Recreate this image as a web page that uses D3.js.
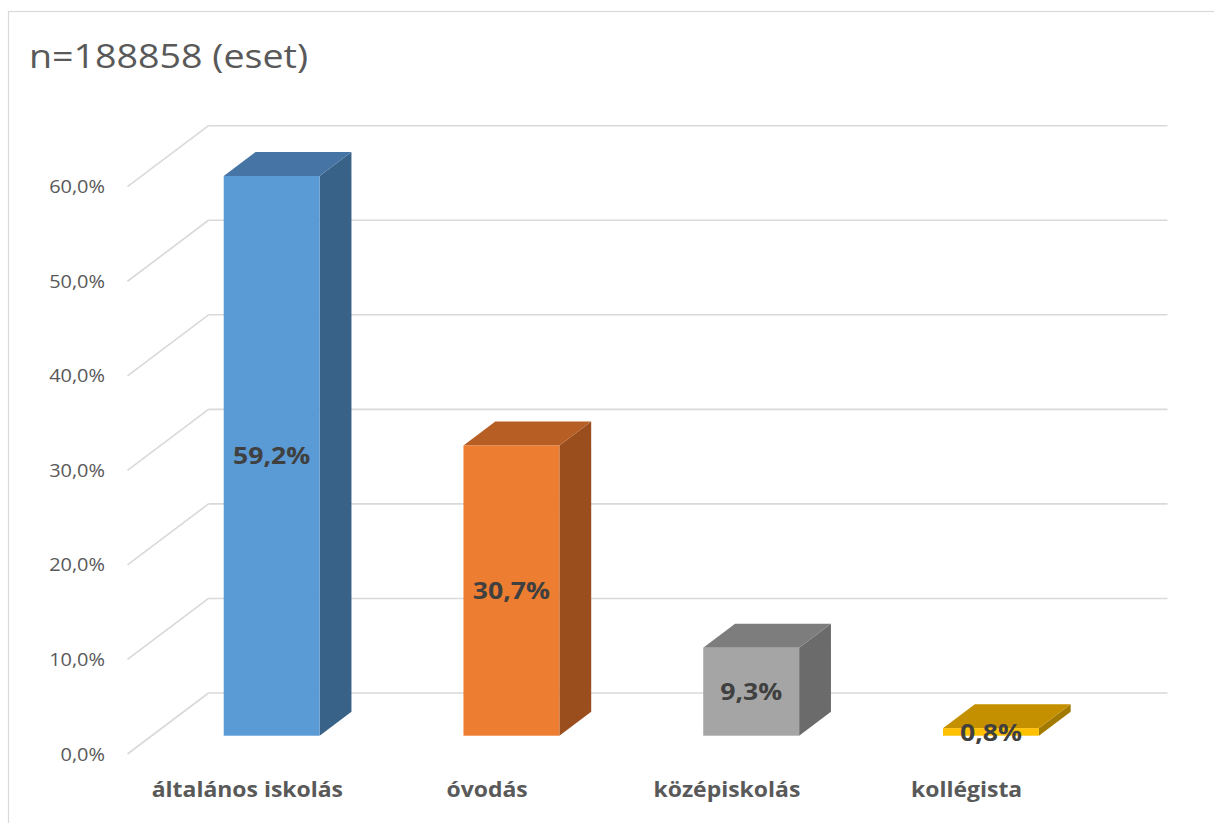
<!DOCTYPE html>
<html>
<head>
<meta charset="utf-8">
<script src="https://cdn.jsdelivr.net/npm/d3@7"></script>
<style>
  html, body { margin: 0; padding: 0; background: #ffffff; }
  svg { display: block; }
</style>
</head>
<body>
<svg id="chart" width="1214" height="823"></svg>
<script>
// Chart data
const title = "n=188858 (eset)";
const categories = ["általános iskolás", "óvodás", "középiskolás", "kollégista"];
const values = [59.2, 30.7, 9.3, 0.8];
const tickValues = [0, 10, 20, 30, 40, 50, 60];
const frontColors = ["#5B9BD5", "#ED7D31", "#A5A5A5", "#FFC000"];
const topColors   = ["#4675A5", "#B65E24", "#7D7D7D", "#C49000"];
const sideColors  = ["#386287", "#9A4E1E", "#6B6B6B", "#A37A00"];

const svg = d3.select("#chart");
const font = "'Open Sans', Lato, sans-serif";

// Outer chart frame
svg.append("rect")
  .attr("x", 8.5).attr("y", 11.5)
  .attr("width", 1220).attr("height", 830)
  .attr("fill", "#fff").attr("stroke", "#D9D9D9").attr("stroke-width", 1.2);

// Oblique projection: front plane and depth vector
const frontLeft = 127.5, frontRight = 1086.5;
const frontBase = 754;
const depth = { dx: 81, dy: -61 };
const barFront = 0.3, barBack = 0.693;   // bar position as fraction of depth

const yScale = d3.scaleLinear().domain([0, 60]).range([frontBase, frontBase - 567.3]);
const xBand = d3.scaleBand().domain(categories).range([frontLeft, frontRight])
  .paddingInner(0.6).paddingOuter(0.3);

const grid = svg.append("g").attr("stroke", "#D9D9D9").attr("stroke-width", 1.6).attr("fill", "none");
// Back wall gridlines
grid.selectAll("line.back").data(tickValues).join("line")
  .attr("x1", frontLeft + depth.dx).attr("x2", frontRight + depth.dx)
  .attr("y1", d => yScale(d) + depth.dy).attr("y2", d => yScale(d) + depth.dy);
// Side wall gridlines
grid.selectAll("line.side").data(tickValues).join("line")
  .attr("x1", frontLeft).attr("x2", frontLeft + depth.dx)
  .attr("y1", d => yScale(d)).attr("y2", d => yScale(d) + depth.dy);

// Value axis labels (slightly widened glyphs)
const pctFmt = d3.formatLocale({ decimal: ",", thousands: " ", grouping: [3], currency: ["", ""] }).format(".1f");
const axis = d3.axisLeft(yScale).tickValues(tickValues).tickSize(0).tickPadding(0)
  .tickFormat(d => pctFmt(d) + "%");
const ag = svg.append("g").attr("transform", "translate(105,0)").call(axis);
ag.select(".domain").remove();
ag.selectAll("text").attr("font-family", font).attr("font-size", 19).attr("fill", "#595959")
  .attr("transform", "scale(1.05,1)");

// Text placed at (x, y) with a horizontal stretch
function stretchedText(parent, x, y, sx) {
  return parent.append("text").attr("transform", `translate(${x},${y}) scale(${sx},1)`);
}

// Bars
const sx0 = depth.dx * barFront, sy0 = depth.dy * barFront;
const sx1 = depth.dx * barBack,  sy1 = depth.dy * barBack;
const bars = svg.append("g").selectAll("g").data(values).join("g");
bars.each(function (v, i) {
  const g = d3.select(this);
  const x0 = xBand(categories[i]) + sx0, x1 = x0 + xBand.bandwidth();
  const yb = yScale(0) + sy0, yt = yScale(v) + sy0;
  const ddx = sx1 - sx0, ddy = sy1 - sy0;
  g.append("path")
    .attr("d", `M${x1},${yb}L${x1 + ddx},${yb + ddy}L${x1 + ddx},${yt + ddy}L${x1},${yt}Z`)
    .attr("fill", sideColors[i]);
  g.append("path")
    .attr("d", `M${x0},${yt}L${x0 + ddx},${yt + ddy}L${x1 + ddx},${yt + ddy}L${x1},${yt}Z`)
    .attr("fill", topColors[i]);
  g.append("rect")
    .attr("x", x0).attr("y", yt).attr("width", x1 - x0).attr("height", yb - yt)
    .attr("fill", frontColors[i]);
  stretchedText(g, (x0 + x1) / 2, (yt + yb) / 2, 1.11)
    .attr("dy", "0.36em").attr("text-anchor", "middle")
    .attr("font-family", font).attr("font-weight", "bold").attr("font-size", 24)
    .attr("fill", "#404040")
    .text(pctFmt(v) + "%");
});

// Category labels
const catG = svg.append("g");
categories.forEach(c => {
  stretchedText(catG, xBand(c) + xBand.bandwidth() / 2, 797, 1.12)
    .attr("text-anchor", "middle")
    .attr("font-family", font).attr("font-weight", "bold").attr("font-size", 20.5)
    .attr("fill", "#595959")
    .text(c);
});

// Title
stretchedText(svg, 29, 68, 1.14)
  .attr("font-family", font).attr("font-size", 33).attr("fill", "#595959")
  .text(title);
</script>
</body>
</html>
